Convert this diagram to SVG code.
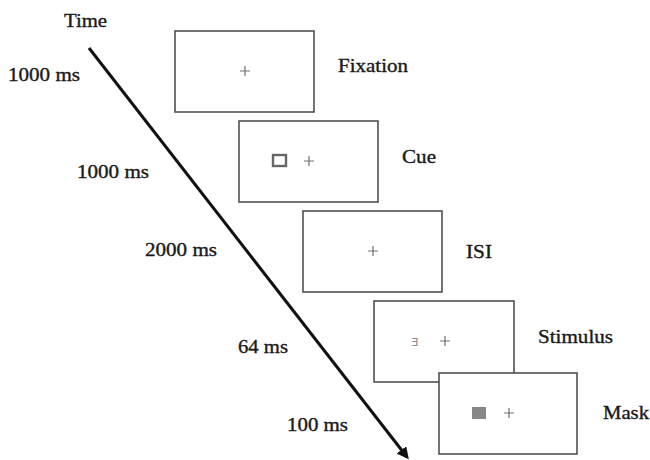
<svg xmlns="http://www.w3.org/2000/svg" width="650" height="460" viewBox="0 0 650 460">
<style>
.lbl{font-family:"Liberation Serif","Times New Roman",serif;font-size:18px;fill:#1a1a1a;stroke:#1a1a1a;stroke-width:0.35;}
.scr{fill:#fff;stroke:#505050;stroke-width:1.6;}
.cross{stroke:#707070;stroke-width:1.2;fill:none;}
</style>
<defs>
<marker id="ah" markerWidth="12" markerHeight="12" refX="9" refY="6" orient="auto" markerUnits="userSpaceOnUse">
<path d="M0,0 L12,6 L0,12 z" fill="#111"/>
</marker>
</defs>
<rect width="650" height="460" fill="#fff"/>
<text class="lbl" x="64" y="27" textLength="43" lengthAdjust="spacingAndGlyphs">Time</text>
<text class="lbl" x="8" y="81" textLength="72" lengthAdjust="spacingAndGlyphs">1000 ms</text>
<text class="lbl" x="77" y="178" textLength="72" lengthAdjust="spacingAndGlyphs">1000 ms</text>
<text class="lbl" x="145" y="256" textLength="72" lengthAdjust="spacingAndGlyphs">2000 ms</text>
<text class="lbl" x="238" y="353" textLength="50" lengthAdjust="spacingAndGlyphs">64 ms</text>
<text class="lbl" x="287" y="431" textLength="61" lengthAdjust="spacingAndGlyphs">100 ms</text>
<g id="connectors">
<line x1="89" y1="48" x2="407" y2="457" stroke="#111" stroke-width="3" marker-end="url(#ah)"/>
</g>
<g id="fixation">
<rect class="scr" x="175" y="31" width="139" height="81"/>
<path class="cross" d="M240,71 h10 M245,66 v10"/>
<text class="lbl" x="338" y="72" textLength="70" lengthAdjust="spacingAndGlyphs">Fixation</text>
</g>
<g id="cue">
<rect class="scr" x="239" y="121" width="139" height="81"/>
<rect x="273" y="155" width="13" height="11" fill="none" stroke="#666" stroke-width="2.4"/>
<path class="cross" d="M304,161 h10 M309,156 v10"/>
<text class="lbl" x="402" y="163" textLength="34" lengthAdjust="spacingAndGlyphs">Cue</text>
</g>
<g id="isi">
<rect class="scr" x="303" y="211" width="139" height="81"/>
<path class="cross" d="M368,251 h10 M373,246 v10"/>
<text class="lbl" x="466" y="258" textLength="26" lengthAdjust="spacingAndGlyphs">ISI</text>
</g>
<g id="stimulus">
<rect class="scr" x="374" y="301" width="140" height="81"/>
<text x="415" y="345.5" font-family="DejaVu Sans, sans-serif" font-size="11" fill="#8a8a8a" text-anchor="middle">Ǝ</text>
<path class="cross" d="M440,341 h10 M445,336 v10"/>
<text class="lbl" x="538" y="343" textLength="75" lengthAdjust="spacingAndGlyphs">Stimulus</text>
</g>
<g id="mask">
<rect class="scr" x="439" y="373" width="138" height="81"/>
<rect x="472" y="407" width="14" height="12" fill="#878787"/>
<path class="cross" d="M504,413 h10 M509,408 v10"/>
<text class="lbl" x="603" y="419" textLength="46" lengthAdjust="spacingAndGlyphs">Mask</text>
</g>
</svg>
